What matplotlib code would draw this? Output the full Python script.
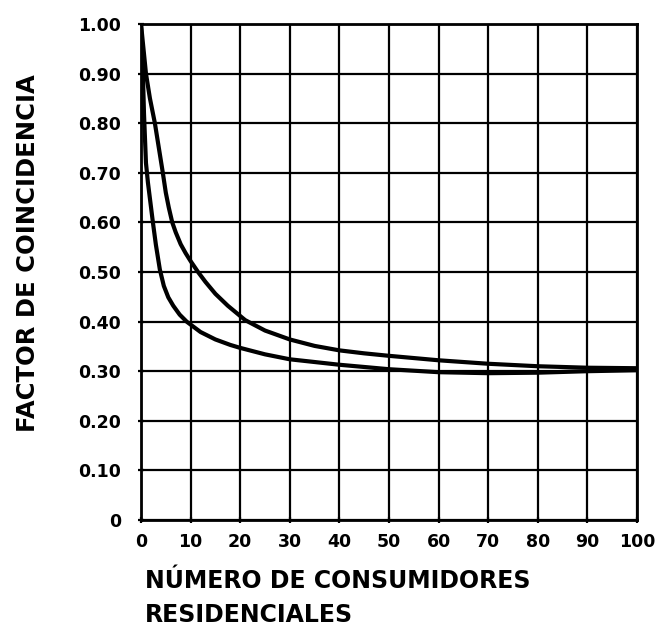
import matplotlib
matplotlib.use("Agg")
import matplotlib.pyplot as plt

# Upper curve
upper_x = [0, 0.5, 1, 1.8, 2.8, 3.6, 4.4, 5.0, 5.6, 6.3, 7, 8, 9, 10, 11.5, 13, 15, 17.5, 21, 25, 30, 35, 40, 45, 50, 60, 70, 80, 90, 100]
upper_y = [1.00, 0.95, 0.90, 0.85, 0.80, 0.75, 0.70, 0.66, 0.63, 0.60, 0.58, 0.556, 0.538, 0.522, 0.50, 0.48, 0.456, 0.432, 0.403, 0.382, 0.364, 0.351, 0.342, 0.336, 0.331, 0.322, 0.315, 0.31, 0.307, 0.306]

# Lower curve
lower_x = [0, 0.3, 0.6, 1.0, 1.4, 1.9, 2.4, 3.0, 3.8, 4.6, 5.5, 6.5, 7.8, 9.2, 12, 15, 18, 20, 25, 30, 40, 50, 60, 70, 80, 90, 100]
lower_y = [1.00, 0.93, 0.82, 0.72, 0.68, 0.64, 0.60, 0.555, 0.505, 0.472, 0.449, 0.432, 0.414, 0.40, 0.379, 0.364, 0.353, 0.347, 0.334, 0.324, 0.313, 0.304, 0.298, 0.296, 0.297, 0.300, 0.302]

x_ticks = [0, 10, 20, 30, 40, 50, 60, 70, 80, 90, 100]
x_labels = ["0", "10", "20", "30", "40", "50", "60", "70", "80", "90", "100"]
y_ticks = [0, 0.1, 0.2, 0.3, 0.4, 0.5, 0.6, 0.7, 0.8, 0.9, 1.0]
y_labels = ["0", "0.10", "0.20", "0.30", "0.40", "0.50", "0.60", "0.70", "0.80", "0.90", "1.00"]

fig = plt.figure(figsize=(6.61, 6.36), dpi=100)
ax = fig.add_axes([141/661, 1-520/636, 496/661, 496/636])

ax.plot(upper_x, upper_y, color="black", lw=3.0, solid_capstyle="round", solid_joinstyle="round", zorder=3)
ax.plot(lower_x, lower_y, color="black", lw=3.0, solid_capstyle="round", solid_joinstyle="round", zorder=3)

ax.set_xlim(0, 100)
ax.set_ylim(0, 1.0)
ax.set_xticks(x_ticks)
ax.set_xticklabels(x_labels)
ax.set_yticks(y_ticks)
ax.set_yticklabels(y_labels)
ax.grid(True, color="black", lw=1.6)
for s in ax.spines.values():
    s.set_linewidth(2.0)
ax.tick_params(axis="both", which="both", direction="inout", length=5, width=1.6,
               labelsize=12.5)
ax.tick_params(axis="y", pad=12)
ax.tick_params(axis="x", pad=7)
for lab in ax.get_xticklabels() + ax.get_yticklabels():
    lab.set_fontweight("bold")

fig.text(28/661, 1-253/636, "FACTOR DE COINCIDENCIA", rotation=90, ha="center", va="center",
         fontsize=17.5, fontweight="bold")
fig.text(145/661, 1-581/636, "NÚMERO DE CONSUMIDORES", ha="left", va="center",
         fontsize=17, fontweight="bold")
fig.text(145/661, 1-615/636, "RESIDENCIALES", ha="left", va="center",
         fontsize=17, fontweight="bold")

fig.savefig("out.png", dpi=100)
